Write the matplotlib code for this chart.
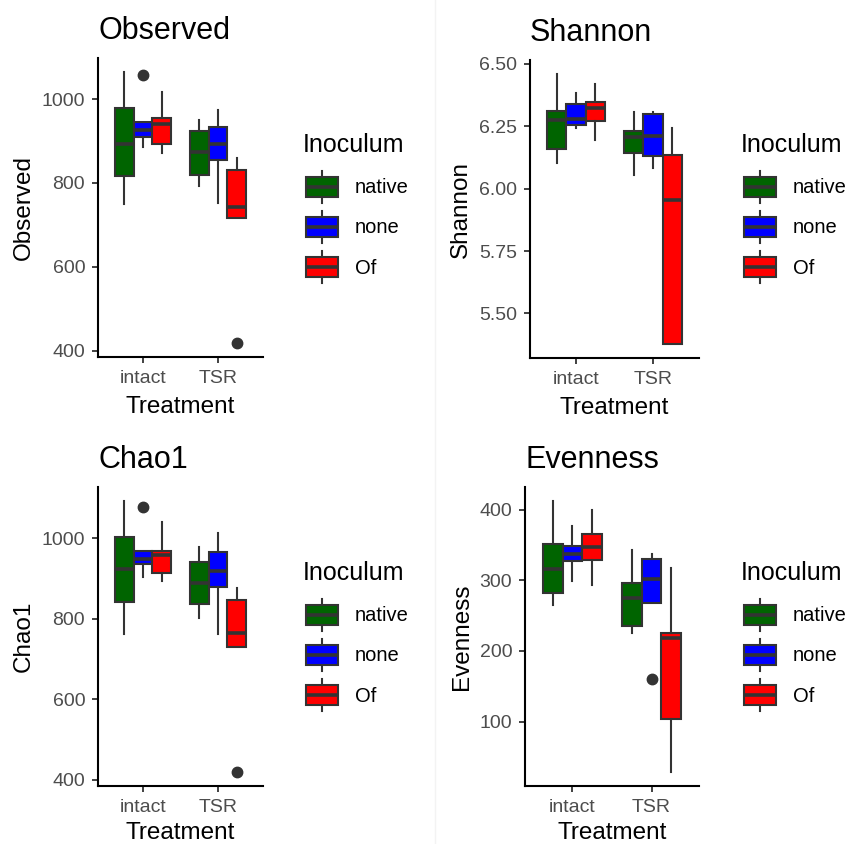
import matplotlib
matplotlib.use("Agg")
import matplotlib.pyplot as plt
from matplotlib.legend_handler import HandlerBase
from matplotlib.patches import Patch, Rectangle
from matplotlib.lines import Line2D

plt.rcParams['font.family'] = ['Liberation Sans', 'DejaVu Sans']

# groups, order of the stat lists: intact/native, intact/none, intact/Of, TSR/native, TSR/none, TSR/Of
treatments = ['intact', 'TSR']
inocula = ['native', 'none', 'Of']
colors = ['#006400', '#0000FF', '#FF0000']

obs_lo = [751, 885, 872, 792, 752, 716]
obs_q1 = [817, 909, 894, 819, 856, 716]
obs_med = [894, 927, 940, 873, 894, 742]
obs_q3 = [978, 945, 955, 923, 933, 831]
obs_hi = [1066, 945, 1018, 950, 974, 859]
obs_out = [[], [1057], [], [], [], [417]]

sha_lo = [6.102, 6.242, 6.194, 6.055, 6.082, 5.376]
sha_q1 = [6.158, 6.255, 6.271, 6.141, 6.132, 5.376]
sha_med = [6.276, 6.278, 6.324, 6.205, 6.211, 5.955]
sha_q3 = [6.309, 6.338, 6.347, 6.229, 6.298, 6.134]
sha_hi = [6.461, 6.382, 6.418, 6.307, 6.305, 6.242]
sha_out = [[], [], [], [], [], []]

chao_lo = [762, 903, 894, 802, 761, 729]
chao_q1 = [841, 935, 912, 835, 879, 729]
chao_med = [923, 949, 957, 889, 919, 763]
chao_q3 = [1003, 969, 969, 940, 966, 847]
chao_hi = [1093, 969, 1040, 977, 1012, 875]
chao_out = [[], [1076], [], [], [], [418]]

even_lo = [265, 299, 294, 225, 268, 28]
even_q1 = [282, 327, 329, 236, 268, 104]
even_med = [316, 337, 347, 275, 302, 219]
even_q3 = [352, 348, 365, 296, 330, 225]
even_hi = [413, 377, 400, 343, 338, 317]
even_out = [[], [], [], [], [160], []]

obs_ticks = [400, 600, 800, 1000]
sha_ticks = [5.50, 5.75, 6.00, 6.25, 6.50]
chao_ticks = [400, 600, 800, 1000]
even_ticks = [100, 200, 300, 400]

panels = [
    ('Observed', obs_lo, obs_q1, obs_med, obs_q3, obs_hi, obs_out, obs_ticks, '{:.0f}'),
    ('Shannon', sha_lo, sha_q1, sha_med, sha_q3, sha_hi, sha_out, sha_ticks, '{:.2f}'),
    ('Chao1', chao_lo, chao_q1, chao_med, chao_q3, chao_hi, chao_out, chao_ticks, '{:.0f}'),
    ('Evenness', even_lo, even_q1, even_med, even_q3, even_hi, even_out, even_ticks, '{:.0f}'),
]

# axes rectangles in pixels: left, top, right, bottom
W, H = 848, 844
rects_px = [(98, 58, 263, 357), (530, 60, 699, 358), (98, 487, 263, 786), (525, 487, 699, 786)]
xlabel_pad = [6.5, 6.5, 4.5, 4.5]
# legend: title left x, title baseline y, first key top y
legend_px = [(303, 152, 171), (741, 152, 171), (303, 580, 599), (741, 580, 599)]

DARK = '#333333'
LW = 1.5


class BoxKey(HandlerBase):
    def create_artists(self, legend, orig_handle, xdescent, ydescent,
                       width, height, fontsize, trans):
        x0, y0 = -xdescent, -ydescent
        cx = x0 + width / 2
        box = Rectangle((x0, y0 + 0.19 * height), width, 0.62 * height,
                        facecolor=orig_handle.get_facecolor(), edgecolor=DARK,
                        lw=LW, transform=trans)
        w1 = Line2D([cx, cx], [y0, y0 + 0.19 * height], color=DARK, lw=LW, transform=trans)
        w2 = Line2D([cx, cx], [y0 + 0.81 * height, y0 + height], color=DARK, lw=LW, transform=trans)
        med = Line2D([x0, x0 + width], [y0 + height / 2] * 2, color=DARK, lw=2.6,
                     solid_capstyle='butt', transform=trans)
        return [w1, w2, box, med]


fig = plt.figure(figsize=(W / 100, H / 100), dpi=100)
fig.add_artist(Line2D([435.5 / W] * 2, [0, 1], color='#f3f3f3', lw=1))

for (name, lo, q1, med, q3, hi, out, yt, fmt), (l, t, r, b), xpad, (lx, ly, ky) in zip(
        panels, rects_px, xlabel_pad, legend_px):
    ax = fig.add_axes([l / W, 1 - b / H, (r - l) / W, (b - t) / H])
    stats, pos = [], []
    k = 0
    for i in range(len(treatments)):
        for j in range(len(inocula)):
            stats.append(dict(whislo=lo[k], q1=q1[k], med=med[k], q3=q3[k],
                              whishi=hi[k], fliers=out[k]))
            pos.append(i + 1 + (j - 1) * 0.25)
            k += 1
    bp = ax.bxp(stats, positions=pos, widths=0.25, patch_artist=True, showcaps=False,
                boxprops=dict(edgecolor=DARK, linewidth=LW),
                medianprops=dict(color=DARK, linewidth=2.6, solid_capstyle='butt'),
                whiskerprops=dict(color=DARK, linewidth=LW),
                flierprops=dict(marker='o', markerfacecolor=DARK, markeredgecolor=DARK,
                                markersize=7.5))
    for n, patch in enumerate(bp['boxes']):
        patch.set_facecolor(colors[n % 3])

    allv = lo + hi + [v for o in out for v in o]
    span = max(allv) - min(allv)
    ax.set_xlim(0.4, 2.6)
    ax.set_xticks([1, 2])
    ax.set_xticklabels(treatments)
    ax.set_yticks(yt)
    ax.set_yticklabels([fmt.format(v) for v in yt])
    ax.set_ylim(min(allv) - 0.05 * span, max(allv) + 0.05 * span)

    for s in ['top', 'right']:
        ax.spines[s].set_visible(False)
    for s in ['left', 'bottom']:
        ax.spines[s].set_linewidth(1.5)
        ax.spines[s].set_color('black')
    ax.tick_params(length=4.4, width=1.3, color=DARK, labelcolor='#4D4D4D',
                   labelsize=14, pad=4.8)
    ax.set_title(name, loc='left', fontsize=22, pad=14)
    ax.set_ylabel(name, fontsize=17.5, labelpad=5)
    ax.set_xlabel('Treatment', fontsize=17.5, labelpad=xpad)

    fig.text(lx / W, 1 - ly / H, 'Inoculum', fontsize=18, ha='left', va='baseline')
    handles = [Patch(facecolor=c) for c in colors]
    ax.legend(handles, inocula, loc='upper left',
              bbox_to_anchor=((lx + 2.7) / W, 1 - ky / H), bbox_transform=fig.transFigure,
              frameon=False, borderpad=0, borderaxespad=0, fontsize=14.5,
              handlelength=1.6, handleheight=2.07, labelspacing=0.4,
              handletextpad=0.85, handler_map={Patch: BoxKey()})

fig.savefig('out.png', dpi=100)
